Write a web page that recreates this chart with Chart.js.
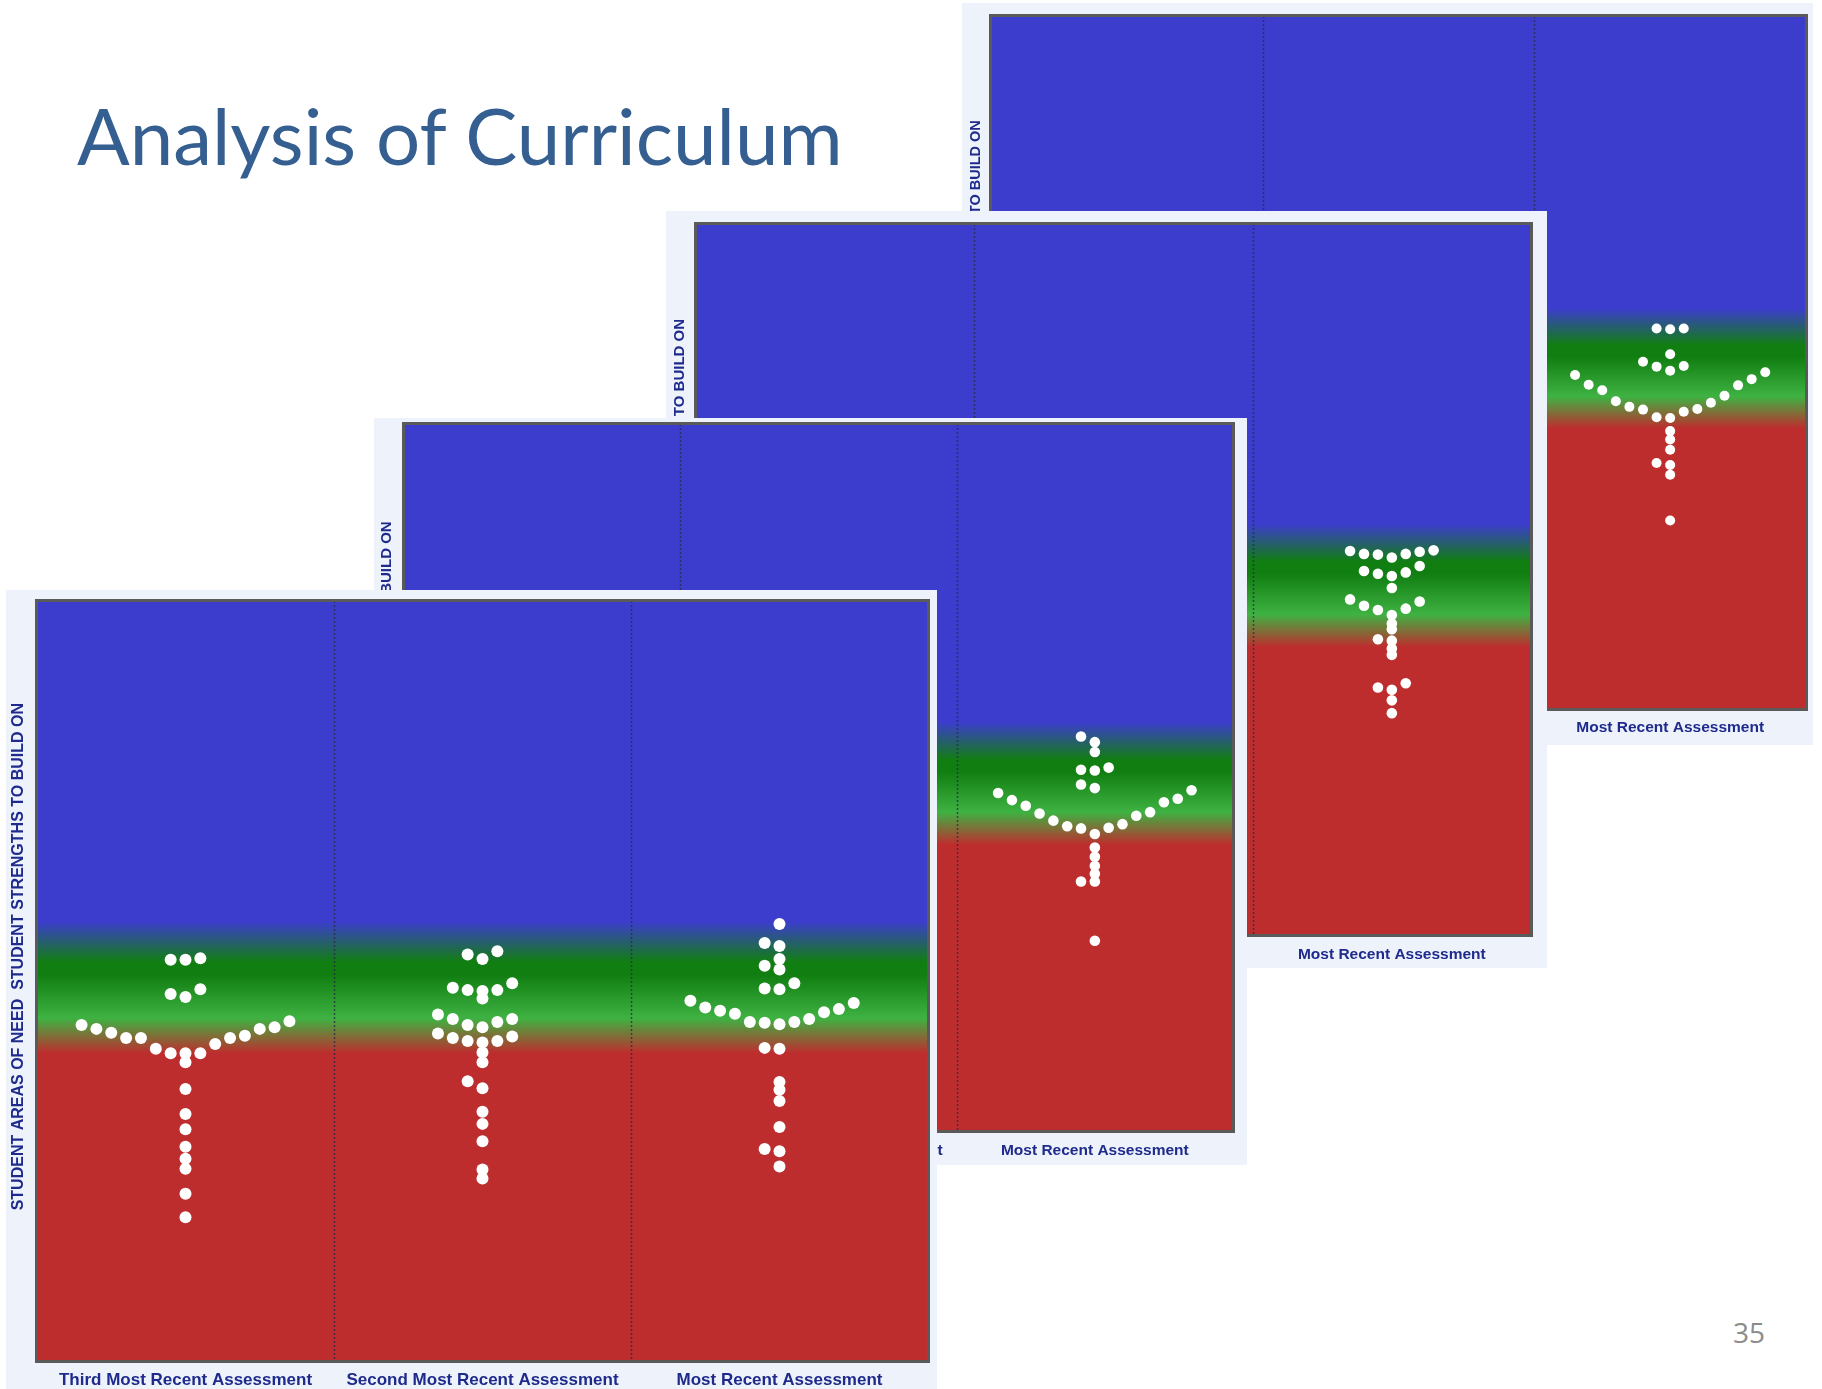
<!DOCTYPE html>
<html>
<head>
<meta charset="utf-8">
<script src="https://cdn.jsdelivr.net/npm/chart.js@4.4.1/dist/chart.umd.min.js"></script>
<style>
  html, body { margin: 0; padding: 0; background: #ffffff; }
  body { width: 1822px; height: 1389px; position: relative; overflow: hidden; }
  .panel { position: absolute; background: #edf2fb; }
  .panel canvas { position: absolute; left: 0; top: 0; }
  #title { position: absolute; left: 77px; top: 96px; font-family: Lato, "Open Sans", sans-serif; font-weight: 400;
           font-size: 78px; line-height: 1; color: #355f91; white-space: nowrap; }
  #pagenum { position: absolute; left: 1733px; top: 1318px; font-family: "Open Sans", sans-serif; font-size: 28px;
             line-height: 1; color: #8c8c8c; }
</style>
</head>
<body>
<div id="title">Analysis of Curriculum</div>
<div class="panel" id="pD" style="left:962px;top:3px;width:851px;height:742px;"><canvas id="cD" width="851" height="742"></canvas></div>
<div class="panel" id="pC" style="left:666px;top:211px;width:881px;height:757px;"><canvas id="cC" width="881" height="757"></canvas></div>
<div class="panel" id="pB" style="left:374px;top:418px;width:873px;height:747px;"><canvas id="cB" width="873" height="747"></canvas></div>
<div class="panel" id="pA" style="left:6px;top:590px;width:931px;height:799px;"><canvas id="cA" width="931" height="799"></canvas></div>
<div id="pagenum">35</div>

<script>
// ---------------- DATA ----------------
const categories = ['Third Most Recent Assessment', 'Second Most Recent Assessment', 'Most Recent Assessment'];
const yAxisTitle = 'STUDENT AREAS OF NEED  STUDENT STRENGTHS TO BUILD ON';
// score levels (0-100) where the background bands change: blue / dark green / dark green / light green / red
const bandLevels = [57.8, 52.5, 50.8, 45.1, 40.5];

// Front panel (A): three assessments. Offsets = swarm position (in dot steps), scores = value.
const aThirdOffsets = [-1,0,1, -1,0,1, -7,-6,-5,-4,-3,-2,-1,0,1,2,3,4,5,6,7, 0,0,0,0,0,0,0,0,0];
const aThirdScores  = [52.8,52.8,53.0, 48.3,47.9,48.9, 44.2,43.7,43.2,42.5,42.5,41.1,40.5,40.5,40.5,41.7,42.5,42.8,43.7,43.9,44.7, 39.3,35.8,32.5,30.5,28.2,26.6,25.3,22.0,18.9];

const aSecondOffsets = [-1,0,1, -2,-1,0,0,1,2, -3,-2,-1,0,1,2, -3,-2,-1,0,1,2, 0,0,-1,0,0,0,0,0,0];
const aSecondScores  = [53.5,52.9,53.9, 49.1,48.8,48.7,47.7,48.8,49.7, 45.6,45.0,44.2,43.9,44.6,45.0, 43.1,42.5,42.1,41.9,42.1,42.7, 40.6,39.3,36.8,35.9,32.8,31.2,28.9,25.2,24.0];

const aRecentOffsets = [0, -1,0, 0,-1,0, -1,0,1, -6,-5,-4,-3,-2,-1,0,1,2,3,4,5, -1,0, 0,0,0,0,-1,0,0];
const aRecentScores  = [57.5, 55.0,54.6, 52.9,52.0,51.5, 49.0,48.9,49.7, 47.4,46.5,46.1,45.7,44.6,44.5,44.3,44.6,45.0,45.9,46.3,47.1, 41.2,41.1, 36.7,35.7,34.2,30.8,27.9,27.6,25.6];

// Back panels (B, C, D): only the most recent assessment is visible.
const bRecentOffsets = [-1,0,0, -1,0,1, -1,0, -7,-6,-5,-4,-3,-2,-1,0,1,2,3,4,5,6,7, 0,0,0,0,-1,0,0];
const bRecentScores  = [55.8,55.0,53.6, 51.1,51.0,51.4, 49.0,48.5, 47.8,46.8,46.0,44.9,43.9,43.1,42.8,42.0,42.9,43.4,44.6,45.1,46.5,47.0,48.2, 40.1,38.8,37.5,36.4,35.3,35.3,26.9];

const cRecentOffsets = [-3,-2,-1,0,1,2,3, -2,-1,0,1,2, 0, -3,-2,-1,0,1,2, 0,0,-1,0,0,0, -1,0,1,0,0];
const cRecentScores  = [54.0,53.6,53.5,53.1,53.6,53.9,54.1, 51.2,50.8,50.5,51.0,51.9, 48.8, 47.2,46.3,45.7,45.0,45.9,46.9, 43.8,43.0,41.6,41.4,40.3,39.4, 34.8,34.5,35.4,33.0,31.2];

const dRecentOffsets = [-1,0,1, 0, -2,-1,0,1, -7,-6,-5,-4,-3,-2,-1,0,1,2,3,4,5,6,7, 0,0,0,-1,0,0,0];
const dRecentScores  = [54.9,54.8,54.9, 51.2, 50.1,49.4,48.8,49.5, 48.2,46.8,46.0,44.4,43.6,43.2,42.1,42.0,42.9,43.3,44.2,45.2,46.7,47.6,48.6, 40.1,38.9,37.4,35.5,35.2,33.8,27.2];

// ---------------- STYLE / LAYOUT ----------------
const SWARM_STEP = 0.05;
const BLUE = '#3c3dcc', DARK_GREEN = '#117e11', LIGHT_GREEN = '#3eb242', RED = '#be2d2e';
const LABEL_COLOR = '#1e2a8c';

const bandsPlugin = {
  id: 'bands',
  beforeDatasetsDraw(chart) {
    const { ctx, chartArea: a, scales: { x, y } } = chart;
    const f = v => Math.min(1, Math.max(0, (y.getPixelForValue(v) - a.top) / (a.bottom - a.top)));
    const g = ctx.createLinearGradient(0, a.top, 0, a.bottom);
    g.addColorStop(0, BLUE);
    g.addColorStop(f(bandLevels[0]), BLUE);
    g.addColorStop(f(bandLevels[1]), DARK_GREEN);
    g.addColorStop(f(bandLevels[2]), DARK_GREEN);
    g.addColorStop(f(bandLevels[3]), LIGHT_GREEN);
    g.addColorStop(f(bandLevels[4]), RED);
    g.addColorStop(1, RED);
    ctx.save();
    ctx.fillStyle = g;
    ctx.fillRect(a.left, a.top, a.width, a.height);
    // column dividers
    ctx.strokeStyle = 'rgba(40,40,70,0.75)';
    ctx.lineWidth = 1.5;
    ctx.setLineDash([2, 2]);
    for (let i = 1; i < categories.length; i++) {
      const px = Math.round(x.getPixelForValue(i)) + 0.5;
      ctx.beginPath();
      ctx.moveTo(px, a.top);
      ctx.lineTo(px, a.bottom);
      ctx.stroke();
    }
    ctx.restore();
  },
  afterDraw(chart, args, opts) {
    const { ctx, chartArea: a } = chart;
    ctx.save();
    ctx.strokeStyle = '#5a5a5a';
    ctx.lineWidth = 3;
    ctx.strokeRect(a.left - 0.5, a.top - 0.5, a.width + 1, a.height + 1);
    // y axis title
    ctx.translate(a.left - opts.titleOffset, a.top + opts.titleCenter * a.height);
    ctx.rotate(-Math.PI / 2);
    ctx.fillStyle = LABEL_COLOR;
    ctx.font = 'bold ' + opts.titleSize + 'px "Liberation Sans", Arial, sans-serif';
    ctx.textAlign = 'center';
    ctx.textBaseline = 'middle';
    ctx.fillText(yAxisTitle, 0, 0);
    ctx.restore();
  }
};

function buildData(columns) {
  return columns.map((col, ci) => ({
    data: col.scores.map((s, i) => ({ x: ci + 0.5 + col.offsets[i] * SWARM_STEP, y: s })),
    backgroundColor: '#ffffff',
    borderWidth: 0,
    pointRadius: 0,
    pointHoverRadius: 0
  }));
}

function makeChart(id, columns, layout) {
  const datasets = buildData(columns);
  datasets.forEach(d => { d.pointRadius = layout.radius; d.pointHoverRadius = layout.radius; });
  return new Chart(document.getElementById(id), {
    type: 'scatter',
    data: { datasets },
    plugins: [bandsPlugin],
    options: {
      responsive: false,
      animation: false,
      devicePixelRatio: 1,
      layout: { padding: { left: layout.left, top: layout.top, right: layout.right, bottom: 0 } },
      plugins: {
        legend: { display: false },
        tooltip: { enabled: false },
        bands: { titleOffset: layout.titleOffset, titleSize: layout.titleSize, titleCenter: layout.titleCenter }
      },
      scales: {
        x: {
          type: 'linear', min: 0, max: categories.length,
          grid: { display: false, drawTicks: false },
          border: { display: false },
          afterBuildTicks: s => { s.ticks = categories.map((_, i) => ({ value: i + 0.5 })); },
          afterFit: s => { s.height = layout.axisH; },
          ticks: {
            autoSkip: false, maxRotation: 0, minRotation: 0,
            padding: layout.tickPad,
            color: LABEL_COLOR,
            font: { family: '"Liberation Sans", Arial, sans-serif', weight: 'bold', size: layout.tickSize },
            callback: (v, i) => categories[i]
          }
        },
        y: { type: 'linear', min: 0, max: 100, display: false }
      }
    }
  });
}

const empty = { offsets: [], scores: [] };

makeChart('cD', [empty, empty, { offsets: dRecentOffsets, scores: dRecentScores }],
  { left: 29, top: 13, right: 7, axisH: 36, tickPad: 9, tickSize: 15.5, radius: 5, titleOffset: 15, titleSize: 14.5, titleCenter: 0.482 });
makeChart('cC', [empty, empty, { offsets: cRecentOffsets, scores: cRecentScores }],
  { left: 30, top: 13, right: 16, axisH: 33, tickPad: 10, tickSize: 15.5, radius: 5.3, titleOffset: 16, titleSize: 15, titleCenter: 0.468 });
makeChart('cB', [empty, empty, { offsets: bRecentOffsets, scores: bRecentScores }],
  { left: 30, top: 6, right: 14, axisH: 34, tickPad: 10, tickSize: 15.5, radius: 5.3, titleOffset: 17, titleSize: 15, titleCenter: 0.474 });
makeChart('cA', [{ offsets: aThirdOffsets, scores: aThirdScores },
                 { offsets: aSecondOffsets, scores: aSecondScores },
                 { offsets: aRecentOffsets, scores: aRecentScores }],
  { left: 31, top: 11, right: 9, axisH: 28, tickPad: 9, tickSize: 17, radius: 6, titleOffset: 18, titleSize: 16, titleCenter: 0.468 });
</script>
</body>
</html>
